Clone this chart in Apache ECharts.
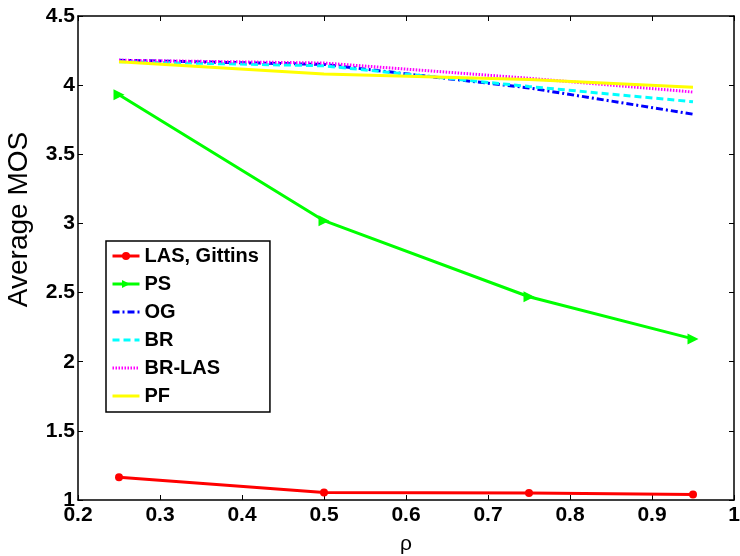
<!DOCTYPE html>
<html>
<head>
<meta charset="utf-8">
<script src="https://cdn.jsdelivr.net/npm/echarts@6/dist/echarts.min.js"></script>
<style>
  html, body { margin: 0; padding: 0; background: #fff; }
  #main { width: 740px; height: 556px; }
</style>
</head>
<body>
<div id="main"></div>
<script>
// rho values
const rho = [0.25, 0.5, 0.75, 0.95];

// average MOS per scheduler
const las_gittins = [1.165, 1.055, 1.05, 1.04];
const ps = [3.93, 3.02, 2.47, 2.165];
const og = [4.18, 4.15, 3.98, 3.79];
const br = [4.17, 4.14, 3.99, 3.88];
const br_las = [4.18, 4.16, 4.05, 3.95];
const pf = [4.17, 4.08, 4.04, 3.985];

const legend_names = ['LAS, Gittins', 'PS', 'OG', 'BR', 'BR-LAS', 'PF'];

function pairs(vals) {
    return rho.map(function (r, i) { return [r, vals[i]]; });
}

const font = 'Liberation Sans, Arial, sans-serif';
const chart = echarts.init(document.getElementById('main'));

const option = {
    animation: false,
    backgroundColor: '#fff',
    grid: { left: 78, right: 6, top: 16, bottom: 56, outerBoundsMode: 'none' },
    legend: {
        left: 106,
        top: 241,
        orient: 'vertical',
        backgroundColor: '#fff',
        borderColor: '#000',
        borderWidth: 1.5,
        borderRadius: 0,
        padding: [5, 11, 6, 5],
        itemGap: 8,
        itemWidth: 27,
        itemHeight: 10,
        lineStyle: { width: 3 },
        textStyle: { fontFamily: font, fontWeight: 'bold', fontSize: 20, lineHeight: 20, color: '#000' },
        // only the first two entries carry a marker
        data: legend_names.map(function (n, i) {
            return i < 2 ? { name: n } : { name: n, itemStyle: { opacity: 0 } };
        })
    },
    xAxis: [{
        type: 'value',
        min: 0.2, max: 1, interval: 0.1,
        name: 'ρ',
        nameLocation: 'middle',
        nameGap: 34,
        nameTextStyle: { fontFamily: font, fontSize: 21, color: '#000' },
        axisLine: { lineStyle: { color: '#000', width: 1.5 } },
        axisTick: { inside: true, length: 5, lineStyle: { color: '#000' } },
        axisLabel: { fontFamily: font, fontWeight: 'bold', fontSize: 21, color: '#000', margin: 5,
            formatter: function (v) { return Number(v.toFixed(1)).toString(); } },
        splitLine: { show: false }
    }, {
        type: 'value',
        position: 'top',
        min: 0.2, max: 1, interval: 0.1,
        axisLine: { lineStyle: { color: '#000', width: 1.5 } },
        axisTick: { inside: true, length: 5, lineStyle: { color: '#000' } },
        axisLabel: { show: false },
        splitLine: { show: false }
    }],
    yAxis: [{
        type: 'value',
        min: 1, max: 4.5, interval: 0.5,
        name: 'Average MOS',
        nameLocation: 'middle',
        nameGap: 45,
        // title sits a little above the middle of the axis
        nameTextStyle: { fontFamily: font, fontSize: 28, color: '#000', padding: [0, 0, 0, 77] },
        axisLine: { lineStyle: { color: '#000', width: 1.5 } },
        axisTick: { inside: true, length: 5, lineStyle: { color: '#000' } },
        axisLabel: { fontFamily: font, fontWeight: 'bold', fontSize: 21, color: '#000', margin: 3 },
        splitLine: { show: false }
    }, {
        type: 'value',
        position: 'right',
        min: 1, max: 4.5, interval: 0.5,
        axisLine: { lineStyle: { color: '#000', width: 1.5 } },
        axisTick: { inside: true, length: 5, lineStyle: { color: '#000' } },
        axisLabel: { show: false },
        splitLine: { show: false }
    }],
    series: [
        {
            name: 'LAS, Gittins', type: 'line', data: pairs(las_gittins),
            symbol: 'circle', symbolSize: 8,
            lineStyle: { color: '#ff0000', width: 3 },
            itemStyle: { color: '#ff0000' }
        },
        {
            name: 'PS', type: 'line', data: pairs(ps),
            symbol: 'triangle', symbolSize: 11, symbolRotate: -90,
            lineStyle: { color: '#00ff00', width: 3 },
            itemStyle: { color: '#00ff00' }
        },
        {
            name: 'OG', type: 'line', data: pairs(og), symbol: 'none',
            lineStyle: { color: '#0000ff', width: 3, type: [7, 3, 2, 3] },
            itemStyle: { color: '#0000ff' }
        },
        {
            name: 'BR', type: 'line', data: pairs(br), symbol: 'none',
            lineStyle: { color: '#00ffff', width: 3, type: [7, 4] },
            itemStyle: { color: '#00ffff' }
        },
        {
            name: 'BR-LAS', type: 'line', data: pairs(br_las), symbol: 'none',
            lineStyle: { color: '#ff00ff', width: 3, type: [1.5, 1.5] },
            itemStyle: { color: '#ff00ff' }
        },
        {
            name: 'PF', type: 'line', data: pairs(pf), symbol: 'none',
            lineStyle: { color: '#ffff00', width: 3 },
            itemStyle: { color: '#ffff00' }
        }
    ]
};

chart.setOption(option);
</script>
</body>
</html>
